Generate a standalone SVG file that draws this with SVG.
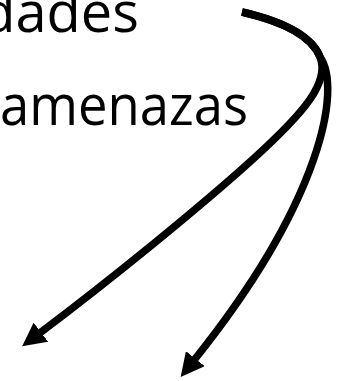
<svg xmlns="http://www.w3.org/2000/svg" width="339" height="381" viewBox="0 0 339 381">
<style>
.t{font-family:"Open Sans","Noto Sans","Liberation Sans",sans-serif;font-size:56px;fill:#000}
.c{fill:none;stroke:#000;stroke-width:7.5}
</style>
<defs>
<marker id="ah" markerUnits="userSpaceOnUse" viewBox="0 0 24 24" markerWidth="24" markerHeight="24" refX="0.5" refY="12" orient="auto">
<path d="M0,0 L23.5,12 L0,24 z" fill="#000"/>
</marker>
</defs>
<rect width="339" height="381" fill="#fff"/>
<g id="text1"><text class="t" x="139" y="32" text-anchor="end">dades</text></g>
<g id="text2"><text class="t" x="0" y="125" textLength="248" lengthAdjust="spacingAndGlyphs">amenazas</text></g>
<g id="connectors">
<path class="c" marker-end="url(#ah)" d="M242,12 C285,22 312,36 320,57 C330,82 305,112 252,160 S110,280 40.5,332.5"/>
<path class="c" marker-end="url(#ah)" d="M242,12 C285,22 312,36 320,57 C342,88 322,200 195,359"/>
</g>
</svg>
